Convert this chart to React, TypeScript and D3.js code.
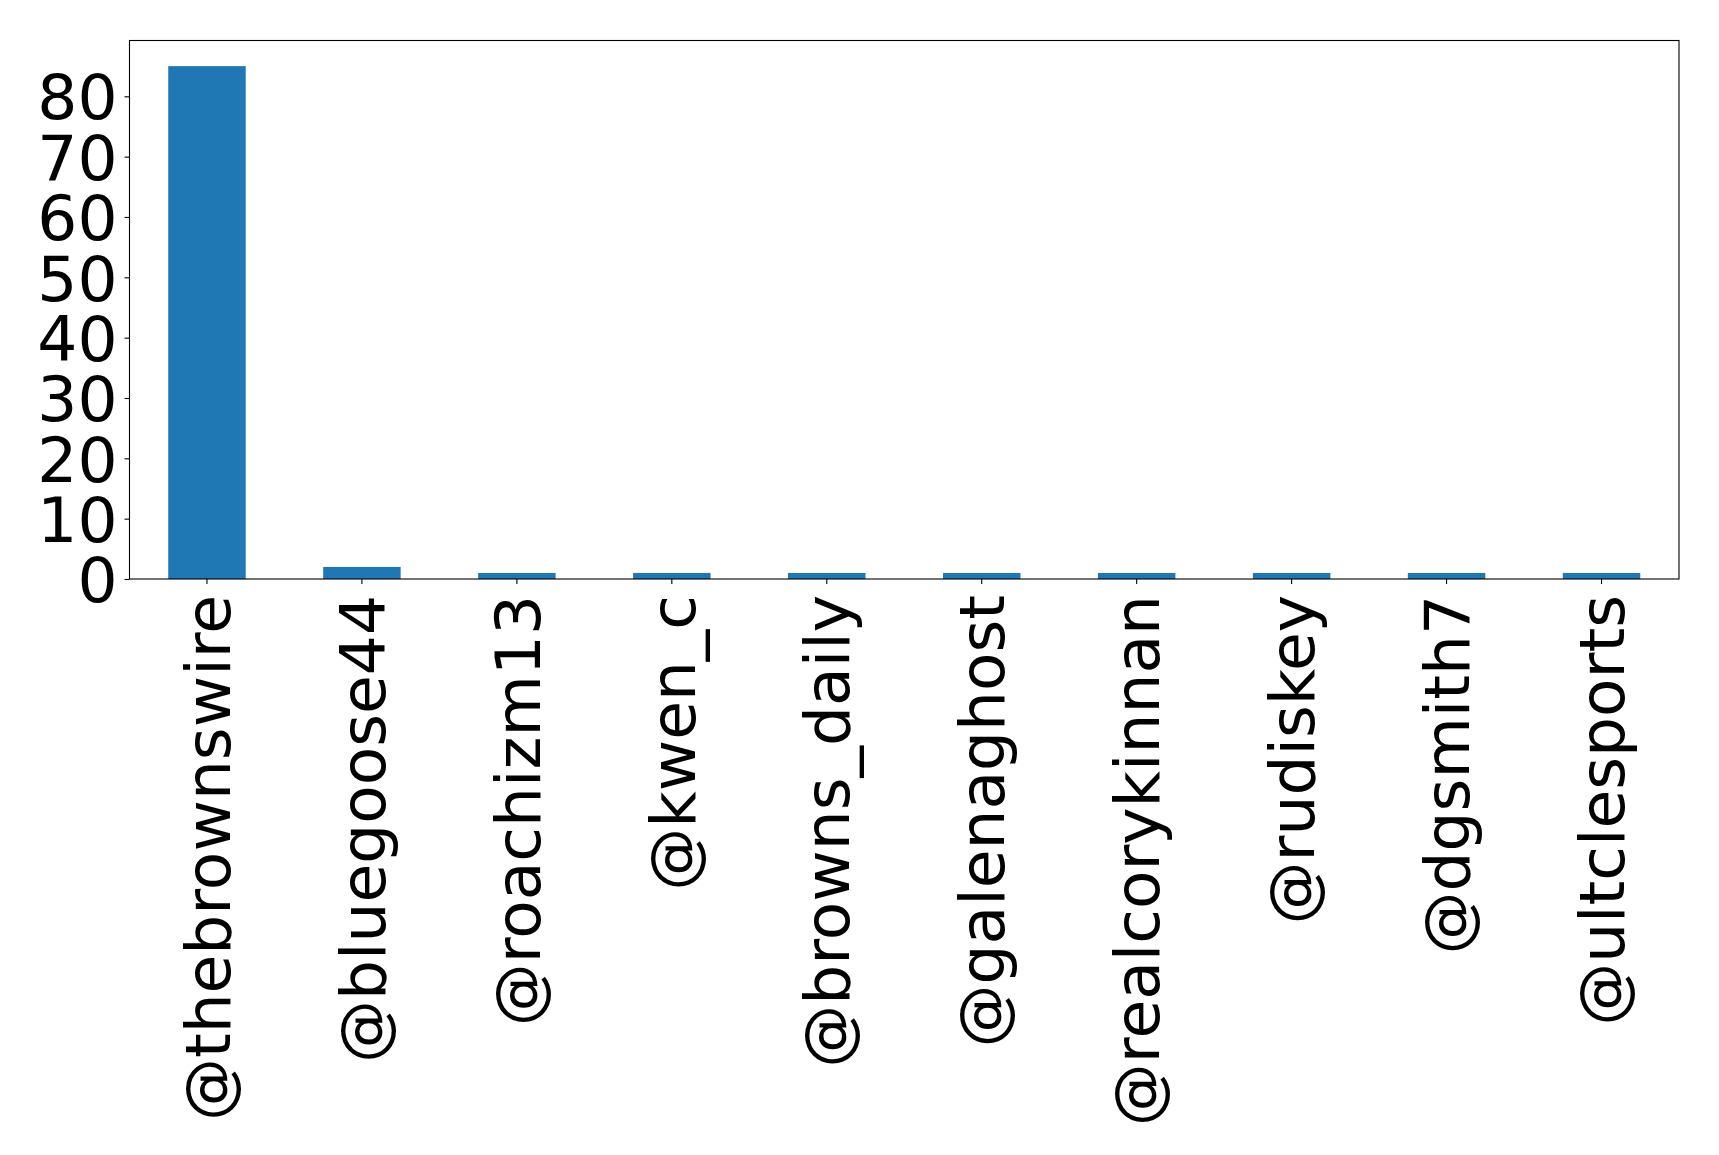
import React, { useRef, useEffect } from 'react';
import * as d3 from 'd3';

// handles and mention counts
const handles = [
  '@thebrownswire',
  '@bluegoose44',
  '@roachizm13',
  '@kwen_c',
  '@browns_daily',
  '@galenaghost',
  '@realcorykinnan',
  '@rudiskey',
  '@dgsmith7',
  '@ultclesports',
];
const counts = [85, 2, 1, 1, 1, 1, 1, 1, 1, 1];
const yTicks = [0, 10, 20, 30, 40, 50, 60, 70, 80];

const W = 1719;
const H = 1155;
const margin = { top: 40.5, right: 40, bottom: 576, left: 129.5 };

const App = () => {
  const svgRef = useRef<SVGSVGElement>(null);

  useEffect(() => {
    const svg = d3.select(svgRef.current);
    svg.selectAll('*').remove();

    const innerW = W - margin.left - margin.right;
    const innerH = H - margin.top - margin.bottom;

    const x = d3.scaleBand()
      .domain(handles)
      .range([0, innerW])
      .paddingInner(0.5)
      .paddingOuter(0.25);

    const y = d3.scaleLinear()
      .domain([0, d3.max(counts) * 1.05])
      .range([innerH, 0]);

    const g = svg.append('g')
      .attr('transform', `translate(${margin.left},${margin.top})`);

    g.selectAll('.bar')
      .data(counts)
      .enter()
      .append('rect')
      .attr('class', 'bar')
      .attr('x', (d, i) => x(handles[i]))
      .attr('y', (d) => y(d))
      .attr('width', x.bandwidth())
      .attr('height', (d) => innerH - y(d))
      .attr('fill', '#1f77b4');

    const font = '"DejaVu Sans", sans-serif';

    const yAxis = d3.axisLeft(y).tickValues(yTicks).tickSize(5).tickPadding(7);
    const yg = g.append('g').call(yAxis);
    yg.select('.domain').remove();
    yg.selectAll('text')
      .attr('font-family', font)
      .attr('font-size', 63)
      .attr('fill', '#000')
      .attr('dy', '0.36em');
    yg.selectAll('line').attr('stroke', '#000').attr('stroke-width', 1.1);

    const xAxis = d3.axisBottom(x).tickSize(5).tickPadding(7);
    const xg = g.append('g')
      .attr('transform', `translate(0,${innerH})`)
      .call(xAxis);
    xg.select('.domain').remove();
    xg.selectAll('line').attr('stroke', '#000').attr('stroke-width', 1.1);
    xg.selectAll('text')
      .attr('font-family', font)
      .attr('font-size', 63)
      .attr('fill', '#000')
      .attr('text-anchor', 'end')
      .attr('transform', 'rotate(-90)')
      .attr('x', -16)
      .attr('y', 0)
      .attr('dy', '0.36em');

    g.append('rect')
      .attr('x', 0)
      .attr('y', 0)
      .attr('width', innerW)
      .attr('height', innerH)
      .attr('fill', 'none')
      .attr('stroke', '#000')
      .attr('stroke-width', 1.1);
  }, []);

  return (
    <div style={{ position: 'absolute', left: 0, top: 0 }}>
      <svg ref={svgRef} width={W} height={H} style={{ display: 'block', background: '#fff' }}></svg>
    </div>
  );
};

export default App;
